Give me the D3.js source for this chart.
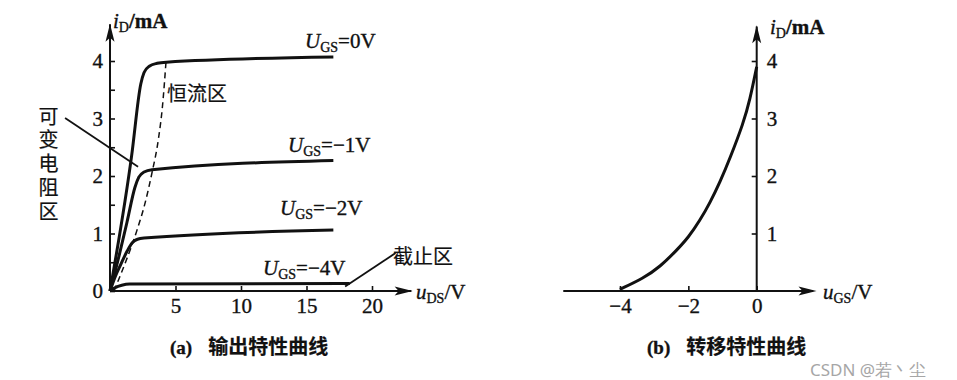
<!DOCTYPE html>
<html>
<head>
<meta charset="utf-8">
<script src="https://cdn.jsdelivr.net/npm/d3@7"></script>
<style>
body { margin: 0; background: #fff; }
svg text { font-family: "Liberation Serif", "DejaVu Serif", serif; fill: #111; stroke: #111; stroke-width: 0.35px; }
svg .cjk { font-family: "Noto Sans CJK SC", sans-serif; stroke-width: 0.2px; }
svg .mark { font-family: "Noto Sans", sans-serif; fill: #a6a6a6; stroke: none; }
</style>
</head>
<body>
<svg id="chart" width="957" height="380"></svg>
<script>
// (a) output characteristics: [u_DS in V, i_D in mA]
const ugs0 = [[0, 0], [1.65, 2.35], [2.35, 3.6], [2.6, 3.8], [3.0, 3.91], [3.6, 3.96], [4.3, 3.98], [17.05, 4.07]];
const ugs1 = [[0, 0], [0.7, 0.62], [1.3, 1.2], [1.9, 1.8], [2.2, 1.98], [2.6, 2.07], [3.2, 2.11], [17.05, 2.27]];
const ugs2 = [[0, 0], [0.4, 0.25], [0.8, 0.45], [1.3, 0.69], [1.7, 0.84], [2.1, 0.9], [2.6, 0.92], [17.05, 1.06]];
const ugs4 = [[0, 0], [0.4, 0.06], [0.9, 0.1], [1.5, 0.12], [18.3, 0.13]];
const pinchOff = [[0.3, 0], [1.15, 0.48], [2.05, 1.05], [2.7, 1.55], [3.2, 2.05], [3.7, 2.65], [4.0, 3.2], [4.27, 3.97]];
const curveNames = ["0V", "\u22121V", "\u22122V", "\u22124V"];

// (b) transfer characteristic: [u_GS in V, i_D in mA]
const transfer = [[-4, 0.03], [-3.32, 0.22], [-2.83, 0.42], [-2.34, 0.71], [-2.0, 0.93], [-1.66, 1.23],
    [-1.37, 1.53], [-1.07, 1.9], [-0.78, 2.31], [-0.39, 2.92], [-0.2, 3.32], [0, 3.9]];

const outXTicks = [5, 10, 15, 20];
const outYTicks = [0, 0.5, 1, 1.5, 2, 2.5, 3, 3.5, 4];
const trXTicks = [-4, -2, 0];
const trYTicks = [1, 2, 3, 4];

// annotation pointers, data units
const varResPointer = [[-3.43, 3.01], [2.14, 2.16]];
const cutoffPointer = [[17.95, 0.08], [21.8, 0.66]];

let svg = d3.select("#chart");

let x = d3.scaleLinear().domain([0, 20]).range([110, 372]);
let y = d3.scaleLinear().domain([0, 4]).range([291, 61]);
let x2 = d3.scaleLinear().domain([-4, 0]).range([620, 756.7]);

function arrow(g, tx, ty, dir) {
    // dir: "right" or "up"
    let p = dir == "right"
        ? [[tx, ty], [tx - 18, ty - 4.5], [tx - 14, ty], [tx - 18, ty + 4.5]]
        : [[tx, ty], [tx - 4.5, ty + 18], [tx, ty + 14], [tx + 4.5, ty + 18]];
    g.append("path")
        .attr("d", "M" + p.join("L") + "Z")
        .attr("fill", "#111");
}

function styleAxis(g) {
    g.select(".domain").remove();
    g.selectAll(".tick line").attr("stroke", "#111").attr("stroke-width", 1.6);
    g.selectAll(".tick text")
        .attr("font-family", null)
        .attr("font-size", 21);
}

let fmt = d => Number.isInteger(d) ? d3.format("d")(d) : "";

let line = d3.line().curve(d3.curveMonotoneX);

// ---------- (a) ----------
let left = svg.append("g");

left.append("g")
    .attr("transform", "translate(0," + y(0) + ")")
    .call(d3.axisBottom(x).tickValues(outXTicks).tickSize(-5).tickPadding(7).tickFormat(fmt))
    .call(styleAxis);

left.append("g")
    .attr("transform", "translate(" + x(0) + ",0)")
    .call(d3.axisLeft(y).tickValues(outYTicks).tickSize(-5).tickPadding(7).tickFormat(fmt))
    .call(styleAxis);

left.append("line")
    .attr("x1", x(0)).attr("y1", y(0)).attr("x2", x(23.0)).attr("y2", y(0))
    .attr("stroke", "#111").attr("stroke-width", 2);
left.append("line")
    .attr("x1", x(0)).attr("y1", y(0)).attr("x2", x(0)).attr("y2", y(4.64))
    .attr("stroke", "#111").attr("stroke-width", 2);
arrow(left, x(23.1), y(0), "right");
arrow(left, x(0), y(4.65), "up");

line.x(d => x(d[0])).y(d => y(d[1]));

left.selectAll("path.curve")
    .data([ugs0, ugs1, ugs2, ugs4])
    .enter()
    .append("path")
    .attr("class", "curve")
    .attr("d", line)
    .attr("fill", "none")
    .attr("stroke", "#111")
    .attr("stroke-width", 3)
    .attr("stroke-linejoin", "round");

left.append("path")
    .attr("d", line(pinchOff))
    .attr("fill", "none")
    .attr("stroke", "#111")
    .attr("stroke-width", 1.5)
    .attr("stroke-dasharray", "6,4");

[varResPointer, cutoffPointer].forEach(p => {
    left.append("line")
        .attr("x1", x(p[0][0])).attr("y1", y(p[0][1]))
        .attr("x2", x(p[1][0])).attr("y2", y(p[1][1]))
        .attr("stroke", "#111").attr("stroke-width", 1.8);
});

// U_GS labels
let labelPos = [[305, 48], [288, 152], [280, 215], [263, 275]];
curveNames.forEach((name, i) => {
    let t = left.append("text")
        .attr("x", labelPos[i][0])
        .attr("y", labelPos[i][1])
        .attr("font-size", 21);
    t.append("tspan").attr("font-style", "italic").text("U");
    t.append("tspan").attr("font-size", 14).attr("dy", 4).text("GS");
    t.append("tspan").attr("dy", -4).text("=" + name);
});

function axisTitle(g, tx, ty, v, sub, unit) {
    let t = g.append("text").attr("x", tx).attr("y", ty).attr("font-size", 21);
    t.append("tspan").attr("font-style", "italic").text(v);
    t.append("tspan").attr("font-size", 14).attr("dy", 4).text(sub);
    t.append("tspan").attr("dy", -4).attr("font-weight", unit == "/mA" ? "bold" : "normal").text(unit);
}

axisTitle(left, 113, 28, "i", "D", "/mA");
axisTitle(left, 416, 299, "u", "DS", "/V");

left.append("text")
    .attr("class", "cjk")
    .attr("x", 167).attr("y", 101)
    .attr("font-size", 20)
    .text("恒流区");

left.append("text")
    .attr("class", "cjk")
    .attr("x", 393).attr("y", 264)
    .attr("font-size", 20)
    .text("截止区");

left.append("text")
    .attr("class", "cjk")
    .attr("x", 48.5)
    .attr("y", 106)
    .attr("font-size", 20)
    .style("writing-mode", "vertical-rl")
    .style("letter-spacing", "3.75px")
    .text("可变电阻区");

// ---------- (b) ----------
let right = svg.append("g");

right.append("g")
    .attr("transform", "translate(0," + y(0) + ")")
    .call(d3.axisBottom(x2).tickValues(trXTicks).tickSize(-5).tickPadding(7).tickFormat(fmt))
    .call(styleAxis);

right.append("g")
    .attr("transform", "translate(" + x2(0) + ",0)")
    .call(d3.axisRight(y).tickValues(trYTicks).tickSize(-5).tickPadding(10).tickFormat(fmt))
    .call(styleAxis);

right.append("line")
    .attr("x1", x2(-5.66)).attr("y1", y(0)).attr("x2", x2(1.65)).attr("y2", y(0))
    .attr("stroke", "#111").attr("stroke-width", 2);
right.append("line")
    .attr("x1", x2(0)).attr("y1", y(0)).attr("x2", x2(0)).attr("y2", y(4.6))
    .attr("stroke", "#111").attr("stroke-width", 2);
arrow(right, x2(1.75), y(0), "right");
arrow(right, x2(0), y(4.62), "up");

let line2 = d3.line().curve(d3.curveBasis).x(d => x2(d[0])).y(d => y(d[1]));

right.append("path")
    .attr("d", line2(transfer))
    .attr("fill", "none")
    .attr("stroke", "#111")
    .attr("stroke-width", 3);

axisTitle(right, 770, 34, "i", "D", "/mA");
axisTitle(right, 823, 299, "u", "GS", "/V");

// captions
function caption(tx, tag, words) {
    let t = svg.append("text").attr("x", tx).attr("y", 354);
    t.append("tspan").attr("font-size", 19).attr("font-weight", "bold").text(tag);
    t.append("tspan")
        .attr("class", "cjk")
        .attr("dx", 16)
        .attr("font-size", 20)
        .attr("font-weight", "bold")
        .text(words);
}
caption(170, "(a)", "输出特性曲线");
caption(647, "(b)", "转移特性曲线");

svg.append("text")
    .attr("class", "mark")
    .attr("x", 810).attr("y", 376)
    .attr("font-size", 17)
    .text("CSDN @若丶尘");
</script>
</body>
</html>
